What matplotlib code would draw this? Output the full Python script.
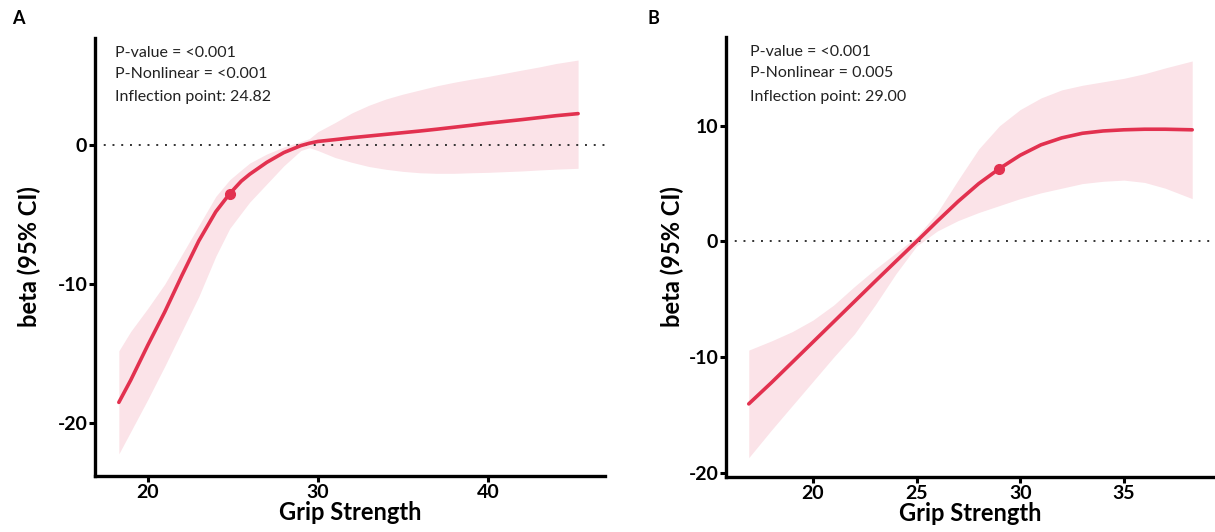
import matplotlib
matplotlib.use("Agg")
import matplotlib.pyplot as plt
import numpy as np

plt.rcParams["font.family"] = ["Lato", "DejaVu Sans"]

LINE_COLOR = "#e2314f"
BAND_COLOR = "#fbe3e8"

# Panel A: grip strength vs beta (restricted cubic spline)
grip_a = [18.3, 19, 20, 21, 22, 23, 24, 24.82, 25.5, 26, 27, 28, 29, 29.5,
          30, 31, 32, 33, 34, 35, 36, 37, 38, 39, 40, 41, 42, 43, 44, 45.3]
beta_a = [-18.5, -16.9, -14.4, -12.0, -9.4, -6.9, -4.8, -3.5, -2.6, -2.1,
          -1.25, -0.55, -0.05, 0.12, 0.25, 0.38, 0.52, 0.64, 0.76, 0.88,
          1.0, 1.13, 1.27, 1.41, 1.56, 1.69, 1.82, 1.96, 2.1, 2.25]
upper_a = [-14.8, -13.4, -11.75, -10.0, -7.9, -5.8, -3.7, -2.5, -1.8, -1.3,
           -0.65, -0.15, 0.25, 0.45, 0.95, 1.6, 2.3, 2.85, 3.3, 3.65, 3.95,
           4.25, 4.5, 4.72, 4.92, 5.15, 5.38, 5.6, 5.85, 6.1]
lower_a = [-22.2, -20.6, -18.3, -15.9, -13.4, -10.9, -8.0, -6.0, -4.9, -4.1,
           -2.8, -1.5, -0.4, -0.2, -0.4, -0.9, -1.25, -1.55, -1.75, -1.9,
           -2.0, -2.04, -2.04, -2.0, -1.97, -1.92, -1.87, -1.8, -1.74, -1.68]
knot_a = (24.82, -3.5)
stats_a = ["P-value = <0.001", "P-Nonlinear = <0.001", "Inflection point: 24.82"]

# Panel B
grip_b = [16.9, 18, 19, 20, 21, 22, 23, 24, 25, 26, 27, 28, 29, 30, 31, 32,
          33, 34, 35, 36, 37, 38.3]
beta_b = [-14.05, -12.2, -10.45, -8.7, -6.95, -5.2, -3.45, -1.72, 0.0, 1.75,
          3.45, 5.0, 6.3, 7.45, 8.35, 8.95, 9.35, 9.55, 9.65, 9.7, 9.7, 9.65]
upper_b = [-9.4, -8.6, -7.8, -6.8, -5.5, -3.9, -2.4, -1.0, 0.4, 2.5, 5.3,
           8.0, 10.0, 11.4, 12.4, 13.1, 13.5, 13.8, 14.1, 14.5, 15.0, 15.6]
lower_b = [-18.7, -16.3, -14.2, -12.1, -10.0, -8.0, -5.5, -2.8, -0.4, 0.9,
           1.8, 2.5, 3.1, 3.7, 4.2, 4.6, 5.0, 5.2, 5.3, 5.1, 4.6, 3.7]
knot_b = (29.0, 6.3)
stats_b = ["P-value = <0.001", "P-Nonlinear = 0.005", "Inflection point: 29.00"]


def draw_panel(ax, x, y, lo, hi, knot, stats, xlim, ylim, xticks, yticks,
               text_x, text_ys, ylabel_pad):
    ax.fill_between(x, lo, hi, color=BAND_COLOR, linewidth=0, zorder=1)
    ax.axhline(0, color="#333333", linestyle=(0, (1, 3.5)), linewidth=1.4, zorder=2)
    ax.plot(x, y, color=LINE_COLOR, linewidth=2.6, solid_capstyle="round", zorder=3)
    ax.plot([knot[0]], [knot[1]], "o", color=LINE_COLOR, markersize=7, zorder=4)

    ax.set_xlim(*xlim)
    ax.set_ylim(*ylim)
    ax.set_xticks(xticks)
    ax.set_yticks(yticks)
    ax.set_xticklabels([str(t) for t in xticks], fontweight="bold", fontsize=14)
    ax.set_yticklabels([str(t) for t in yticks], fontweight="bold", fontsize=14)
    ax.tick_params(axis="both", direction="out", length=4.5, width=2.2, pad=1)

    for side in ["top", "right"]:
        ax.spines[side].set_visible(False)
    for side in ["left", "bottom"]:
        ax.spines[side].set_linewidth(2.4)

    ax.set_xlabel("Grip Strength", fontweight="bold", fontsize=17, labelpad=0.5)
    ax.set_ylabel("beta (95% CI)", fontweight="bold", fontsize=17,
                  labelpad=ylabel_pad)

    for s, ty in zip(stats, text_ys):
        ax.text(text_x, ty, s, transform=ax.transAxes, fontsize=11.5,
                ha="left", va="center", color="#222222")


fig = plt.figure(figsize=(12.15, 5.32), dpi=100)
ax_a = fig.add_axes([0.0782, 0.105, 0.42, 0.824])
ax_b = fig.add_axes([0.5975, 0.1034, 0.4025, 0.8276])

draw_panel(ax_a, grip_a, beta_a, lower_a, upper_a, knot_a, stats_a,
           (16.9, 46.9), (-23.8, 7.7), [20, 30, 40], [-20, -10, 0],
           0.039, [0.966, 0.918, 0.865], 12)
draw_panel(ax_b, grip_b, beta_b, lower_b, upper_b, knot_b, stats_b,
           (15.8, 39.4), (-20.37, 17.7), [20, 25, 30, 35], [-20, -10, 0, 10],
           0.049, [0.965, 0.918, 0.863], 3)

fig.text(0.010, 0.955, "A", fontweight="bold", fontsize=13)
fig.text(0.533, 0.955, "B", fontweight="bold", fontsize=13)

fig.savefig("out.png", dpi=100)
